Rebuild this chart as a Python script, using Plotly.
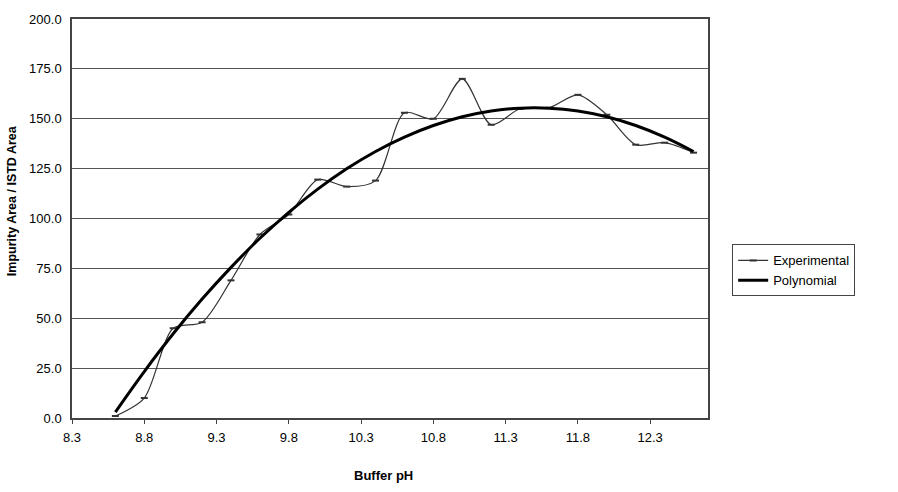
import plotly.graph_objects as go

ph = [8.6, 8.8, 9.0, 9.2, 9.4, 9.6, 9.8, 10.0, 10.2, 10.4, 10.6,
      10.8, 11.0, 11.2, 11.4, 11.6, 11.8, 12.0, 12.2, 12.4, 12.6]
experimental = [1.0, 10.0, 45.0, 48.0, 69.0, 92.0, 102.0, 119.5, 116.0, 119.0, 153.0,
                150.0, 170.0, 147.0, 155.0, 155.5, 162.0, 152.0, 137.0, 138.0, 133.0]
polynomial = [3.0, 23.3, 42.2, 59.6, 75.5, 90.1, 103.1, 114.7, 124.9, 133.6, 140.8,
              146.6, 151.0, 153.9, 155.3, 155.3, 153.9, 151.0, 146.6, 140.8, 133.6]

x_ticks = [8.3, 8.8, 9.3, 9.8, 10.3, 10.8, 11.3, 11.8, 12.3]
y_ticks = [0, 25, 50, 75, 100, 125, 150, 175, 200]

font = "Liberation Sans, Arial, sans-serif"

fig = go.Figure()
fig.add_trace(go.Scatter(
    x=ph, y=experimental, name="Experimental", mode="lines+markers",
    line=dict(color="#333333", width=1.2, shape="spline", smoothing=0.8),
    marker=dict(symbol="line-ew-open", size=5, line=dict(color="#222222", width=2)),
))
fig.add_trace(go.Scatter(
    x=ph, y=polynomial, name="Polynomial", mode="lines",
    line=dict(color="#000000", width=3, shape="spline"),
))

fig.update_layout(
    width=898, height=492,
    margin=dict(l=72, r=190, t=12, b=74),
    plot_bgcolor="white", paper_bgcolor="white",
    font=dict(family=font, size=13, color="#000000"),
    showlegend=True,
    legend=dict(
        x=1.038, y=0.435, xanchor="left", yanchor="top",
        bordercolor="#444444", borderwidth=1, bgcolor="white",
        font=dict(family=font, size=13), tracegroupgap=0,
        itemwidth=30,
    ),
    xaxis=dict(
        range=[8.3, 12.7], tickvals=x_ticks,
        ticktext=[f"{v:.1f}" for v in x_ticks],
        showgrid=False, zeroline=False,
        showline=True, linecolor="#444444", linewidth=1.5, mirror=True,
        ticks="outside", ticklen=4, tickcolor="#444444",
        tickfont=dict(family=font, size=13), ticklabelstandoff=3,
    ),
    yaxis=dict(
        range=[0, 200], tickvals=y_ticks,
        ticktext=[f"{v:.1f}" for v in y_ticks],
        showgrid=True, gridcolor="#555555", gridwidth=1,
        zeroline=False,
        showline=True, linecolor="#444444", linewidth=1.5, mirror=True,
        ticks="", tickfont=dict(family=font, size=13), ticklabelstandoff=6,
    ),
    annotations=[
        dict(text="<b>Buffer pH</b>", xref="paper", yref="paper",
             x=0.49, y=-0.145, xanchor="center", yanchor="middle",
             showarrow=False, font=dict(family=font, size=13)),
        dict(text="<b>Impurity Area / ISTD Area</b>", xref="paper", yref="paper",
             x=-0.095, y=0.545, xanchor="center", yanchor="middle", textangle=-90,
             showarrow=False, font=dict(family=font, size=12.5)),
    ],
)

fig.write_html("out.html")
